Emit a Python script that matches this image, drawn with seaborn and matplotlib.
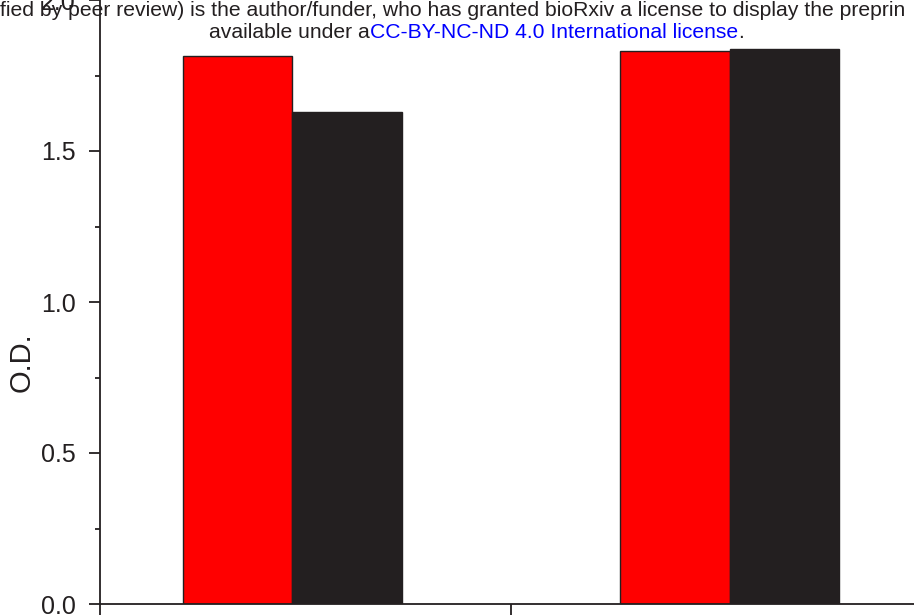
import matplotlib
matplotlib.use("Agg")
import matplotlib.pyplot as plt
import seaborn as sns
import pandas as pd
from matplotlib.ticker import MultipleLocator, FormatStrFormatter

# ---- data ----
categories = ["Group 1", "Group 2"]
series_names = ["Series A", "Series B"]
series_a = [1.815, 1.832]
series_b = [1.630, 1.838]
colors = ["#ff0000", "#231f20"]

header_line1 = "fied by peer review) is the author/funder, who has granted bioRxiv a license to display the preprin"
header_line2 = ["available under a", "CC-BY-NC-ND 4.0 International license", "."]
header_colors = ["#231f20", "#0000ff", "#231f20"]

df = pd.DataFrame({
    "cat": categories * 2,
    "series": [series_names[0]] * 2 + [series_names[1]] * 2,
    "val": series_a + series_b,
})

sns.set_theme(style="white")
plt.rcParams["font.family"] = ["Liberation Sans", "DejaVu Sans"]

W, H = 914, 615
fig = plt.figure(figsize=(W / 100, H / 100), dpi=100)
ax = fig.add_axes([100 / W, 11 / H, 822 / W, 604 / H])

sns.barplot(data=df, x="cat", y="val", hue="series", palette=colors,
            width=0.5, edgecolor="#231f20", linewidth=1.0, ax=ax,
            legend=False, errorbar=None, saturation=1)

ax.set_xlim(-0.439, 1.439)
ax.set_ylim(0, 2.0)
ax.set_xticks([-0.439, 0.5])
ax.set_xticklabels(["", ""])
ax.yaxis.set_major_locator(MultipleLocator(0.5))
ax.yaxis.set_minor_locator(MultipleLocator(0.25))
ax.yaxis.set_major_formatter(FormatStrFormatter("%.1f"))
ax.set_xlabel("")
ax.set_ylabel("O.D.", fontsize=21, color="#231f20")
ax.yaxis.set_label_coords(-0.078, 0.40)

for s in ["top", "right"]:
    ax.spines[s].set_visible(False)
for s in ["left", "bottom"]:
    ax.spines[s].set_color("#231f20")
    ax.spines[s].set_linewidth(1.3)

ax.tick_params(axis="y", which="major", direction="out", length=8, width=1.3,
               color="#231f20", labelsize=18, labelcolor="#231f20", left=True, pad=9.5)
ax.tick_params(axis="y", which="minor", direction="out", length=3.8, width=1.3,
               color="#231f20", left=True)
ax.tick_params(axis="x", which="major", direction="out", length=8, width=1.3,
               color="#231f20", bottom=True)

# header text
fig.text(0 / W, 1 - 10 / H, header_line1, ha="left", va="center", fontsize=15.2,
         color="#231f20")
fig.canvas.draw()
renderer = fig.canvas.get_renderer()
x = 209 / W
for txt, c in zip(header_line2, header_colors):
    t = fig.text(x, 1 - 32 / H, txt, ha="left", va="center", fontsize=15.2, color=c)
    bb = t.get_window_extent(renderer=renderer)
    x = bb.x1 / W

fig.savefig("out.png", dpi=100)
